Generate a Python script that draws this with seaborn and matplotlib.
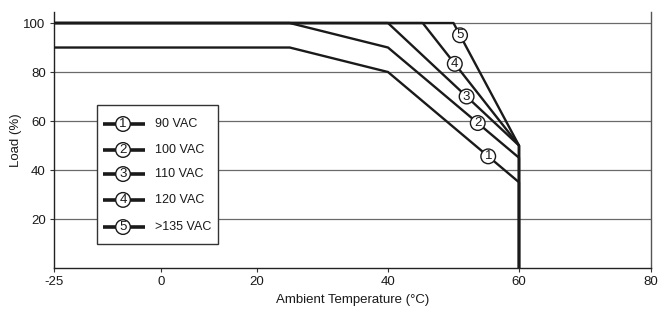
import numpy as np
import pandas as pd
import matplotlib
matplotlib.use("Agg")
import matplotlib.pyplot as plt
from matplotlib.patches import Rectangle
import seaborn as sns

sns.set_theme(style="white")
plt.rcParams["font.family"] = ["Liberation Sans", "DejaVu Sans"]

# ---- data: derating curves (temperature in degC, load in %) ----
curve_ids = ["1", "2", "3", "4", "5"]
curve_names = ["90 VAC", "100 VAC", "110 VAC", "120 VAC", ">135 VAC"]

temps_90 = [-25, 25, 40, 60, 60]
load_90 = [90, 90, 80, 35, 0]
temps_100 = [-25, 25, 40, 60, 60]
load_100 = [100, 100, 90, 45, 0]
temps_110 = [-25, 40, 60, 60]
load_110 = [100, 100, 50, 0]
temps_120 = [-25, 45.3, 60, 60]
load_120 = [100, 100, 50, 0]
temps_135 = [-25, 50, 60, 60]
load_135 = [100, 100, 50, 0]

# temperature where each numbered tag sits on its curve
tag_temps = [55.3, 53.7, 52.0, 50.2, 51.0]

x_ticks = [-25, 0, 20, 40, 60, 80]
y_ticks = [20, 40, 60, 80, 100]

# the original chart uses an uneven temperature axis
x_tick_spacing = [0, 107, 203, 334, 465, 597]

curves = [(temps_90, load_90), (temps_100, load_100), (temps_110, load_110),
          (temps_120, load_120), (temps_135, load_135)]

rows = []
for cid, (t, l) in zip(curve_ids, curves):
    for i, (tt, ll) in enumerate(zip(t, l)):
        rows.append({"curve": cid, "order": i, "temp": tt, "load": ll})
df = pd.DataFrame(rows)

INK = "#1a1a1a"


def fwd(x):
    return np.interp(x, x_ticks, x_tick_spacing)


def inv(p):
    return np.interp(p, x_tick_spacing, x_ticks)


fig = plt.figure(figsize=(6.67, 3.13), dpi=100)
ax = fig.add_axes([54 / 667, 45 / 313, 597 / 667, 256 / 313])
ax.set_xscale("function", functions=(fwd, inv))

for y in y_ticks:
    ax.axhline(y, color="#6a6a6a", lw=0.9, zorder=1)

sns.lineplot(data=df, x="temp", y="load", units="curve", estimator=None,
             sort=False, color=INK, lw=1.7, ax=ax, zorder=3)

tag_box = dict(boxstyle="circle,pad=0.1", fc="white", ec=INK, lw=1.0)
for cid, (t, l), tt in zip(curve_ids, curves, tag_temps):
    yy = np.interp(tt, t[:-1], l[:-1])
    ax.text(tt, yy, cid, ha="center", va="center", fontsize=9.5,
            color=INK, bbox=tag_box, zorder=5)

# legend box
ax.add_patch(Rectangle((0.072, 0.094), 0.203, 0.543, transform=ax.transAxes,
                       fc="white", ec="#333333", lw=1.0, zorder=4))
leg_y = [0.5625, 0.461, 0.367, 0.266, 0.160]
for cid, name, ly in zip(curve_ids, curve_names, leg_y):
    ax.plot([0.082, 0.152], [ly, ly], color=INK, lw=2.6,
            transform=ax.transAxes, zorder=5, solid_capstyle="butt")
    ax.text(0.1156, ly, cid, transform=ax.transAxes, ha="center", va="center",
            fontsize=9.5, color=INK, bbox=tag_box, zorder=6)
    ax.text(0.169, ly, name, transform=ax.transAxes, ha="left", va="center",
            fontsize=9, color=INK, zorder=6)

ax.set_xlim(-25, 80)
ax.set_ylim(0, 104.5)
ax.set_xticks(x_ticks)
ax.set_xticklabels([str(v) for v in x_ticks])
ax.set_yticks(y_ticks)
ax.set_yticklabels([str(v) for v in y_ticks])
ax.tick_params(axis="both", length=3, width=0.8, color="#333333",
               labelsize=9.5, labelcolor=INK, pad=3, direction="out",
               bottom=True, left=True)

ax.set_xlabel("Ambient Temperature (°C)", fontsize=9.5, color=INK, labelpad=4)
ax.set_ylabel("Load (%)", fontsize=9.5, color=INK, labelpad=1)

for side in ["left", "bottom"]:
    ax.spines[side].set_color("#222222")
    ax.spines[side].set_linewidth(1.0)
ax.spines["right"].set_color("#555555")
ax.spines["right"].set_linewidth(1.0)
ax.spines["top"].set_visible(False)
ax.grid(False)

fig.savefig("out.png", dpi=100)
